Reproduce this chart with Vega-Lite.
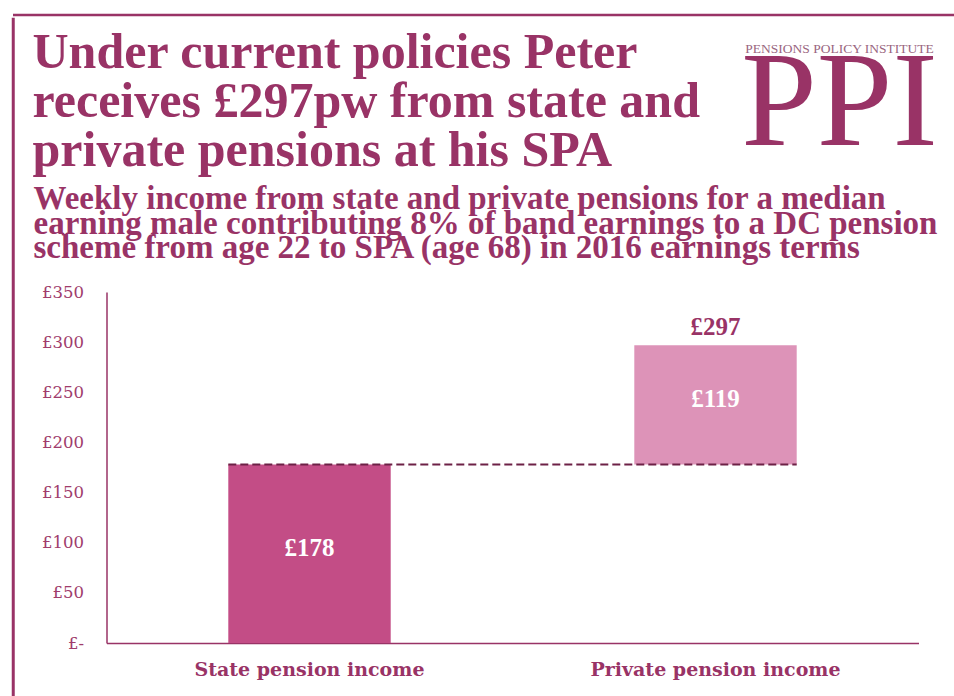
{
  "$schema": "https://vega.github.io/schema/vega-lite/v6.json",
  "background": "white",
  "padding": {"left": 11, "top": 13, "right": 0, "bottom": 0},
  "config": {"font": "Liberation Serif", "view": {"stroke": null}},
  "spacing": 0,
  "vconcat": [
    {
      "width": 1100, "height": 0.5,
      "data": {"values": []},
      "mark": "point", "encoding": {},
      "view": {"stroke": "#993366", "strokeWidth": 2.5, "strokeDash": [1100, 5000]}
    },
    {
      "spacing": 17.5,
      "hconcat": [
        {
          "width": 0.5, "height": 690,
          "data": {"values": []},
          "mark": "point", "encoding": {},
          "view": {"stroke": "#993366", "strokeWidth": 2.5}
        },
        {
          "spacing": 7,
          "vconcat": [
            {
              "spacing": 27,
              "hconcat": [
                {
                  "width": 606, "height": 9,
                  "data": {"values": []},
                  "mark": "point", "encoding": {},
                  "title": {
                    "text": ["Under current policies Peter", "receives £297pw from state and", "private pensions at his SPA"],
                    "orient": "bottom", "anchor": "start", "frame": "group", "baseline": "top",
                    "font": "Liberation Serif", "fontSize": 50, "fontWeight": "bold",
                    "color": "#993366", "lineHeight": 49, "offset": 0, "dx": -74
                  }
                },
                {
                  "width": 200, "height": 140,
                  "layer": [
                    {
                      "data": {"values": [{"name": "PPI"}]},
                      "mark": {"type": "text", "font": "Liberation Serif", "fontSize": 136, "color": "#993366", "baseline": "alphabetic", "dy": 56},
                      "encoding": {"text": {"field": "name"}}
                    },
                    {
                      "data": {"values": [{"name": "PENSIONS POLICY INSTITUTE"}]},
                      "mark": {"type": "text", "font": "Liberation Serif", "fontSize": 13.5, "color": "#9a6680", "baseline": "alphabetic", "dy": -36},
                      "encoding": {"text": {"field": "name"}}
                    }
                  ]
                }
              ]
            },
            {
              "width": 812, "height": 351,
              "title": {
                "text": ["Weekly income from state and private pensions for a median", "earning male contributing 8% of band earnings to a DC pension", "scheme from age 22 to SPA (age 68) in 2016 earnings terms"],
                "anchor": "start", "font": "Liberation Serif", "fontSize": 33, "fontWeight": "bold",
                "color": "#993366", "lineHeight": 24.5, "offset": 19, "dx": -8
              },
              "layer": [
                {
                  "data": {"values": [
                    {"category": "State pension income", "type": "State", "base": 0, "end": 178},
                    {"category": "Private pension income", "type": "Private", "base": 178, "end": 297}
                  ]},
                  "mark": {"type": "bar"},
                  "encoding": {
                    "x": {
                      "field": "category", "type": "nominal",
                      "scale": {"domain": ["State pension income", "Private pension income"], "paddingInner": 0.6, "paddingOuter": 0.3},
                      "axis": {"title": null, "ticks": false, "labelAngle": 0, "domainColor": "#993366", "domainWidth": 1.5, "labelLimit": 0,
                               "labelFont": "DejaVu Serif", "labelFontSize": 19, "labelFontWeight": "bold", "labelColor": "#993366", "labelPadding": 17}
                    },
                    "y": {
                      "field": "base", "type": "quantitative", "title": null,
                      "scale": {"domain": [0, 350], "nice": false},
                      "axis": {"title": null, "values": [0, 50, 100, 150, 200, 250, 300, 350],
                               "labelExpr": "datum.value == 0 ? '£-' : '£' + datum.value",
                               "ticks": false, "grid": false, "domainColor": "#993366", "domainWidth": 1.5,
                               "labelFont": "DejaVu Serif", "labelFontSize": 16.5, "labelColor": "#a03c6c", "labelPadding": 23}
                    },
                    "y2": {"field": "end"},
                    "color": {"field": "type", "type": "nominal", "legend": null,
                              "scale": {"domain": ["State", "Private"], "range": ["#c34d86", "#dd93b8"]}}
                  }
                },
                {
                  "data": {"values": [{"from": "State pension income", "to": "Private pension income", "level": 178}]},
                  "mark": {"type": "rule", "strokeDash": [8, 4], "strokeWidth": 2, "color": "#6d2146"},
                  "encoding": {
                    "x": {"field": "from", "type": "nominal", "bandPosition": 0},
                    "x2": {"field": "to", "bandPosition": 1},
                    "y": {"field": "level", "type": "quantitative", "title": null}
                  }
                },
                {
                  "data": {"values": [
                    {"category": "State pension income", "label": "£178", "edge": 0},
                    {"category": "State pension income", "label": "£178", "edge": 178},
                    {"category": "Private pension income", "label": "£119", "edge": 178},
                    {"category": "Private pension income", "label": "£119", "edge": 297}
                  ]},
                  "mark": {"type": "text", "color": "white", "fontWeight": "bold", "fontSize": 25, "font": "Liberation Serif", "baseline": "middle", "dy": -6},
                  "encoding": {
                    "x": {"field": "category", "type": "nominal"},
                    "y": {"aggregate": "mean", "field": "edge", "type": "quantitative", "title": null},
                    "text": {"field": "label"}
                  }
                },
                {
                  "data": {"values": [{"category": "Private pension income", "label": "£297", "total": 297}]},
                  "mark": {"type": "text", "color": "#993366", "fontWeight": "bold", "fontSize": 25, "font": "Liberation Serif", "baseline": "alphabetic", "dy": -10},
                  "encoding": {
                    "x": {"field": "category", "type": "nominal"},
                    "y": {"field": "total", "type": "quantitative", "title": null},
                    "text": {"field": "label"}
                  }
                }
              ]
            }
          ]
        }
      ]
    }
  ]
}
